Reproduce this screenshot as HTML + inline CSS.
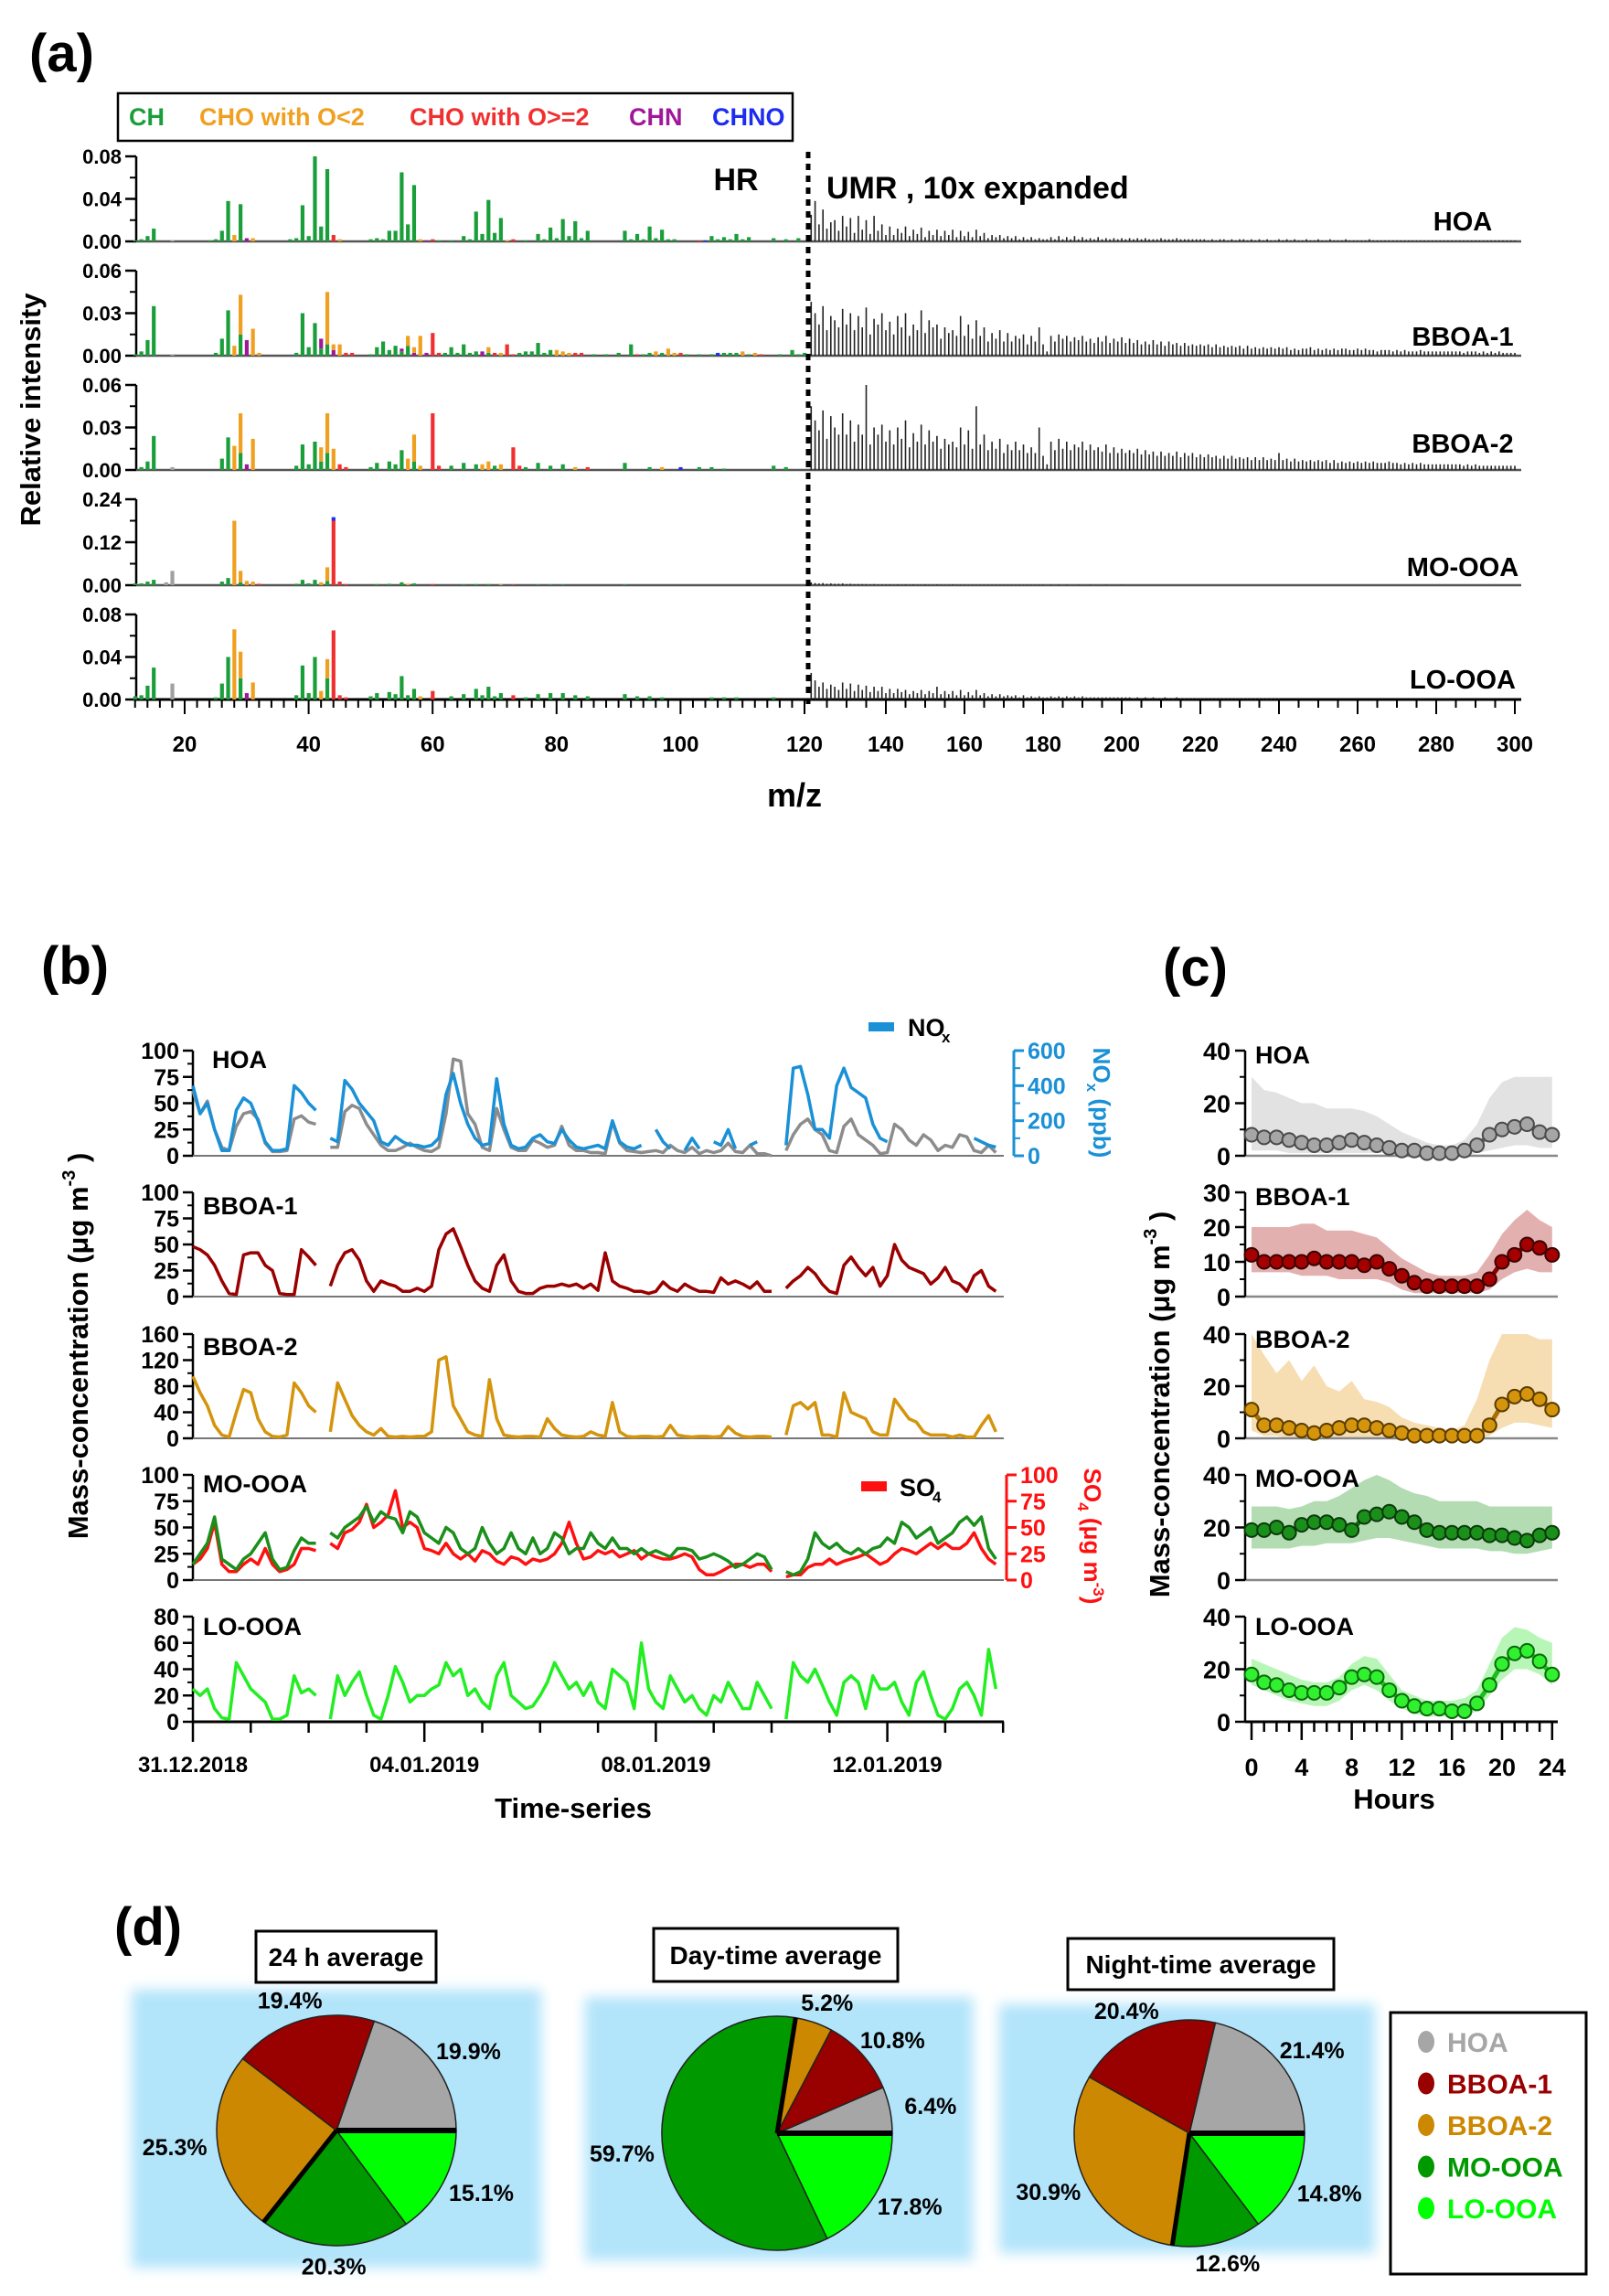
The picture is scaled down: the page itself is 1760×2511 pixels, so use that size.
<!DOCTYPE html>
<html><head><meta charset="utf-8"><title>PMF factor profiles, time series, diurnals and pies</title>
<style>
html,body{margin:0;padding:0;background:#fff;}
svg{display:block;}
</style></head>
<body>
<svg id="chart" xmlns="http://www.w3.org/2000/svg" width="1760" height="2511" viewBox="0 0 1760 2511">
<defs><filter id="blur" x="-10%" y="-10%" width="120%" height="120%"><feGaussianBlur stdDeviation="7"/></filter></defs>
</svg>
<script>
// ---------- DATA: panel (a) HR bars [m/z, value x0.001, category], stacked bottom->top per m/z ----------
const hrHOA=[[12,1,'c'],[13,2,'c'],[14,5,'c'],[15,12,'c'],[18,1,'g'],[24,1,'c'],[25,2,'c'],[26,10,'c'],[27,38,'c'],[28,6,'o'],[29,35,'c'],[30,3,'p'],[31,3,'o'],[37,2,'c'],[38,3,'c'],[39,34,'c'],[40,5,'c'],[41,82,'c'],[42,14,'c'],[43,68,'c'],[44,6,'r'],[45,2,'o'],[50,2,'c'],[51,3,'c'],[52,2,'c'],[53,10,'c'],[54,10,'c'],[55,65,'c'],[56,16,'c'],[57,53,'c'],[58,2,'o'],[59,1,'p'],[60,2,'r'],[61,1,'c'],[63,1,'c'],[65,5,'c'],[66,2,'c'],[67,28,'c'],[68,7,'c'],[69,39,'c'],[70,8,'c'],[71,22,'c'],[72,1,'o'],[73,2,'r'],[75,1,'c'],[77,7,'c'],[78,2,'c'],[79,13,'c'],[80,3,'c'],[81,21,'c'],[82,5,'c'],[83,19,'c'],[84,3,'c'],[85,10,'c'],[91,10,'c'],[92,2,'c'],[93,7,'c'],[94,2,'c'],[95,14,'c'],[96,3,'c'],[97,11,'c'],[98,2,'c'],[99,2,'c'],[103,1,'r'],[104,1,'b'],[105,5,'c'],[106,2,'c'],[107,4,'c'],[108,2,'c'],[109,7,'c'],[110,2,'c'],[111,4,'c'],[115,3,'c'],[117,2,'c'],[119,3,'c']];
const hrBBOA1=[[12,1,'c'],[13,3,'c'],[14,11,'c'],[15,35,'c'],[18,1,'g'],[25,2,'c'],[26,12,'c'],[27,32,'c'],[28,7,'o'],[29,15,'c'],[29,28,'o'],[30,11,'p'],[31,19,'o'],[32,2,'o'],[38,2,'c'],[39,30,'c'],[40,6,'c'],[41,23,'c'],[42,5,'c'],[42,7,'p'],[43,8,'c'],[43,37,'o'],[44,4,'p'],[44,4,'o'],[45,8,'o'],[46,2,'r'],[47,2,'r'],[50,1,'c'],[51,6,'c'],[52,10,'c'],[53,4,'c'],[54,7,'c'],[55,3,'c'],[55,2,'p'],[56,7,'c'],[56,7,'o'],[57,2,'p'],[57,4,'o'],[58,14,'o'],[59,2,'p'],[60,16,'r'],[61,2,'r'],[62,2,'c'],[63,6,'c'],[64,2,'c'],[65,8,'c'],[66,2,'c'],[67,3,'c'],[68,3,'p'],[69,2,'c'],[69,4,'o'],[70,2,'r'],[71,2,'o'],[72,8,'r'],[73,1,'r'],[74,2,'c'],[75,3,'c'],[76,3,'c'],[77,9,'c'],[78,2,'c'],[79,4,'c'],[80,4,'o'],[81,3,'o'],[82,2,'o'],[83,2,'r'],[84,2,'r'],[86,1,'c'],[88,1,'c'],[90,2,'c'],[92,8,'c'],[93,1,'r'],[94,1,'c'],[95,2,'c'],[96,3,'o'],[97,2,'c'],[98,5,'o'],[99,2,'o'],[100,2,'r'],[101,1,'c'],[103,1,'c'],[105,1,'c'],[106,2,'b'],[107,2,'c'],[108,2,'c'],[109,2,'c'],[110,3,'o'],[111,1,'c'],[112,2,'o'],[113,1,'r'],[116,1,'c'],[118,4,'c'],[119,1,'c'],[120,2,'c']];
const hrBBOA2=[[13,2,'c'],[14,6,'c'],[15,24,'c'],[18,2,'g'],[26,8,'c'],[27,23,'c'],[28,17,'o'],[29,12,'c'],[29,28,'o'],[30,4,'p'],[31,22,'o'],[38,3,'c'],[39,18,'c'],[40,4,'c'],[41,20,'c'],[42,6,'c'],[42,10,'o'],[43,12,'c'],[43,28,'o'],[44,15,'o'],[45,4,'r'],[46,2,'r'],[50,2,'c'],[51,5,'c'],[53,6,'c'],[54,4,'c'],[55,14,'c'],[56,8,'o'],[57,6,'c'],[57,19,'o'],[58,3,'o'],[60,40,'r'],[61,3,'r'],[63,3,'c'],[65,5,'c'],[67,4,'c'],[68,4,'o'],[69,6,'o'],[70,3,'c'],[71,4,'o'],[73,16,'r'],[74,3,'r'],[75,2,'c'],[77,5,'c'],[79,3,'c'],[81,4,'c'],[83,2,'o'],[85,2,'r'],[91,5,'c'],[95,2,'c'],[97,2,'o'],[100,2,'b'],[103,2,'c'],[105,2,'c'],[107,1,'c'],[115,3,'c'],[117,2,'c']];
const hrMOOOA=[[12,5,'c'],[13,5,'c'],[14,10,'c'],[15,15,'c'],[17,8,'g'],[18,40,'g'],[26,10,'c'],[27,20,'c'],[28,180,'o'],[29,8,'c'],[29,32,'o'],[30,12,'o'],[31,10,'o'],[32,4,'r'],[38,4,'c'],[39,15,'c'],[40,5,'c'],[41,15,'c'],[42,8,'o'],[43,12,'c'],[43,38,'o'],[44,180,'r'],[44,10,'b'],[45,10,'r'],[46,3,'r'],[51,3,'c'],[53,4,'c'],[55,8,'c'],[56,4,'o'],[57,5,'c'],[60,3,'r'],[65,2,'c'],[67,3,'c'],[69,3,'c'],[71,2,'o'],[73,2,'r'],[77,2,'c'],[79,2,'c'],[81,2,'c'],[91,2,'c']];
const hrLOOOA=[[12,3,'c'],[13,4,'c'],[14,13,'c'],[15,30,'c'],[18,15,'g'],[25,2,'c'],[26,15,'c'],[27,40,'c'],[28,66,'o'],[29,20,'c'],[29,25,'o'],[30,6,'p'],[31,16,'o'],[38,4,'c'],[39,32,'c'],[40,6,'c'],[41,40,'c'],[42,8,'o'],[43,20,'c'],[43,18,'o'],[44,65,'r'],[45,4,'r'],[46,2,'r'],[50,3,'c'],[51,6,'c'],[53,7,'c'],[54,5,'c'],[55,22,'c'],[56,4,'c'],[57,10,'c'],[58,3,'o'],[60,8,'r'],[63,3,'c'],[65,5,'c'],[67,10,'c'],[68,4,'c'],[69,12,'c'],[70,3,'c'],[71,6,'c'],[73,4,'r'],[75,2,'c'],[77,5,'c'],[79,6,'c'],[81,6,'c'],[83,4,'c'],[85,3,'c'],[91,5,'c'],[93,3,'c'],[95,3,'c'],[97,2,'c'],[105,2,'c'],[107,2,'c'],[109,2,'c'],[115,2,'c']];
// UMR (m/z 121..), displayed (10x expanded) intensity x0.001
const umrHOA=[25,38,16,30,12,18,20,10,24,14,22,8,24,11,20,7,24,10,16,6,14,6,12,8,14,5,11,7,13,4,10,6,11,5,10,6,11,4,10,5,9,4,11,5,8,3,6,4,6,3,5,3,5,2,4,2,4,2,3,2,2,4,2,5,2,4,2,5,2,4,2,3,2,4,2,3,2,3,2,3,2,3,2,3,2,3,2,2,2,3,2,2,2,3,2,2,2,2,2,2,2,1,2,1,2,2,1,2,1,2,2,1,2,1,2,1,2,1,1,2,1,2,1,2,1,1,2,1,1,2,1,1,2,1,1,1,2,1,1,1,1,1,2,1,1,1,1,1,1,1,1,1,1,1,1,1,1,1,1,1,1,1,1,1,1,1,1,1,1,1,1,1,1,1,1,1,1,1,1,1];
const umrBBOA1=[38,30,22,35,18,28,25,20,33,22,30,18,28,20,34,15,26,22,30,18,24,15,28,20,30,14,22,18,32,16,25,20,22,12,20,16,18,14,28,14,22,12,25,14,20,10,16,12,18,10,16,10,14,12,15,8,14,10,20,8,3,14,10,15,12,14,10,13,11,14,10,12,9,13,10,14,9,12,10,13,9,12,9,11,8,10,8,11,8,10,7,10,8,9,7,9,7,8,7,8,7,8,6,8,6,7,6,7,6,7,5,7,5,6,5,6,5,6,5,6,5,6,4,5,4,5,5,6,4,5,4,5,4,5,4,5,5,4,4,5,4,5,4,4,3,4,4,4,3,4,3,4,3,3,3,4,3,3,3,3,3,3,3,3,3,3,2,3,3,3,2,3,2,3,2,3,2,2,2,2];
const umrBBOA2=[45,35,28,42,22,38,30,25,40,25,35,20,32,25,60,18,30,25,32,20,28,18,30,22,35,16,26,20,32,18,28,20,24,15,22,18,20,16,30,18,28,15,45,18,25,14,20,15,22,12,18,14,20,14,18,12,16,12,30,10,4,20,14,22,15,20,14,18,16,20,14,18,14,16,13,18,12,16,12,15,12,14,12,15,11,14,11,13,10,13,10,12,10,13,9,12,10,12,9,11,9,11,9,10,8,10,8,10,8,9,8,9,7,9,7,9,7,8,7,12,7,8,6,8,6,7,6,7,6,7,6,7,5,7,5,6,5,6,5,6,5,6,5,6,5,5,5,6,5,5,4,5,4,5,4,5,4,4,4,4,4,4,4,4,4,4,3,4,3,4,3,3,3,3,3,3,3,3,3,3];
const umrMOOOA=[8,6,5,6,4,5,4,4,5,3,4,3,3,3,3,2,3,2,2,2,2,1,2,1,2,1,2,1,1,2,1,1,2,1,1,1,2,1,1,1,1,1,1,1,1,1,1,1,1,1,1,1,1,1,1,1,1,1,1,1,0,1,0,1,0,1,0,0,1,0,0,1,0,0,0,1,0,0,0,1];
const umrLOOOA=[25,18,12,16,10,14,12,9,16,10,15,8,14,9,13,7,12,8,12,6,10,6,10,7,9,5,8,6,9,5,8,6,12,5,8,5,8,4,9,4,7,4,9,4,6,3,5,3,5,3,4,3,4,2,4,2,3,2,3,2,2,3,2,3,2,3,2,3,2,3,2,2,2,2,2,2,2,2,2,2,2,2,1,2,1,2,1,2,1,1,2,1,1,2,1,1,1,1,1,1,1,1,1,1,1,1,1,1,1,1,1,1,1,1,1,1,1,1,1,1];
const aNames=['HOA','BBOA-1','BBOA-2','MO-OOA','LO-OOA'];
const aMax=[80,60,60,240,80];
const aTickLabels=[['0.00','0.04','0.08'],['0.00','0.03','0.06'],['0.00','0.03','0.06'],['0.00','0.12','0.24'],['0.00','0.04','0.08']];
const mzTicksHR=[20,40,60,80,100];
const mzTicksUMR=[120,140,160,180,200,220,240,260,280,300];

// ---------- DATA: panel (b) time series, 3-hourly, 31.12.2018 00:00 onward ----------
const tsHOA=[62,40,52,25,8,5,28,40, 42,35,12,4,4,5,35,38, 32,30,null,8,8,42,48,45, 30,20,10,5,5,8,12,8, 5,4,8,40,92,90,40,30, 8,5,45,25,8,5,5,15, 12,8,10,28,10,5,5,3, 3,2,32,12,5,4,3,4, 5,3,10,5,3,8,2,5, 3,5,12,4,3,10,2,2, 0,null,5,20,30,35,25,20, 5,3,28,35,20,15,10,2, 3,30,25,15,10,20,15,5, 10,8,20,18,5,3,10,3];
const tsNOx=[400,240,300,150,30,30,260,330, 300,200,80,30,30,40,400,360, 300,260,null,100,80,430,380,300, 250,200,80,60,110,80,60,60, 50,60,100,350,470,300,180,100, 60,70,440,180,60,40,50,100, 120,80,70,150,90,50,40,50, 60,40,200,80,50,40,60,null, 150,80,40,null,30,100,40,null, 80,60,150,40,null,60,80,null, 30,null,60,500,510,350,150,150, 100,400,500,390,360,330,180,100, 80,null,null,null,null,null,null,null, null,null,null,null,100,80,60,50];
const tsBBOA1=[48,45,40,30,15,3,2,40, 42,42,30,25,3,2,2,45, 38,30,null,10,30,42,45,35, 15,5,15,12,10,5,5,8, 5,10,45,60,65,48,30,15, 8,5,30,40,15,5,3,3, 8,10,10,12,10,12,8,12, 6,42,15,10,8,5,5,3, 5,14,8,5,12,8,5,5, 4,18,12,15,12,8,14,5, 5,null,8,15,20,28,22,12, 5,3,30,38,28,20,28,10, 20,50,35,28,25,22,12,18, 28,15,12,5,20,25,10,5];
const tsBBOA2=[95,70,50,20,5,2,40,75, 70,30,10,3,2,5,85,70, 50,40,null,10,85,60,35,20, 10,5,15,3,2,3,2,3, 3,10,120,125,50,30,10,5, 3,90,30,5,3,2,3,3, 2,30,15,5,3,2,3,10, 5,3,55,10,3,2,3,3, 2,3,20,5,3,2,3,3, 2,3,18,8,3,2,3,3, 2,null,5,50,55,45,55,5, 5,2,70,40,35,30,10,5, 5,60,45,30,25,10,5,5, 5,2,5,2,2,20,35,10];
const tsMOOOA=[15,25,35,60,20,15,10,20, 25,35,45,20,10,12,28,40, 35,35,null,45,40,50,55,60, 70,55,65,60,58,45,65,60, 45,40,35,50,45,30,25,30, 50,35,25,30,45,30,25,40, 25,30,45,40,25,30,30,45, 35,30,40,30,30,25,30,25, 28,25,22,30,30,28,20,22, 25,22,18,12,15,20,25,22, 10,null,8,5,8,20,45,35, 30,35,28,25,30,25,30,32, 40,35,55,50,40,45,50,35, 40,45,55,60,52,60,30,20];
const tsSO4=[15,20,30,55,15,8,8,15, 20,15,30,15,8,10,15,30, 30,28,null,35,30,45,48,55, 72,50,55,62,85,50,55,50, 30,28,25,35,25,20,25,18, 28,25,18,15,22,20,15,20, 18,20,25,35,55,35,20,22, 28,25,28,22,25,28,20,25, 22,20,20,22,25,22,10,5, 5,8,12,15,15,12,15,15, 8,null,3,5,5,12,15,15, 20,15,18,20,22,25,20,15, 18,25,30,28,25,30,35,30, 35,30,30,35,45,30,20,15];
const tsLOOOA=[25,20,25,10,3,2,45,35, 25,20,15,2,2,5,35,22, 25,20,null,2,35,20,30,38, 20,5,2,20,42,30,15,20, 20,25,28,45,35,40,20,25, 15,10,35,45,20,15,10,12, 20,30,45,35,25,30,20,30, 15,10,40,35,30,10,60,25, 15,10,35,25,15,20,10,5, 20,15,30,20,10,10,30,20, 10,null,2,45,35,30,40,28, 15,5,30,35,30,10,35,25, 25,30,15,5,30,38,20,5, 2,10,25,30,20,5,55,25];
const dateLabels=['31.12.2018','04.01.2019','08.01.2019','12.01.2019'];
const dateDays=[0,4,8,12];

// ---------- DATA: panel (c) diurnal cycles (hours 0..24) ----------
const hours=[0,1,2,3,4,5,6,7,8,9,10,11,12,13,14,15,16,17,18,19,20,21,22,23,24];
const dHOA=[8,7,7,6,5,4,4,5,6,5,4,3,2,2,1,1,1,2,4,8,10,11,12,9,8];
const dHOAup=[30,25,24,22,20,20,18,18,18,17,15,12,9,7,5,4,4,6,12,22,28,30,30,30,30];
const dHOAlo=[2,2,2,1,1,1,1,1,1,1,1,1,0,0,0,0,0,0,1,2,3,4,4,3,3];
const dBB1=[12,10,10,10,10,11,10,10,10,9,10,8,6,4,3,3,3,3,3,5,10,12,15,14,12];
const dBB1up=[20,20,20,20,21,21,19,19,19,18,17,14,11,9,7,6,6,6,7,12,18,22,25,22,20];
const dBB1lo=[7,7,7,7,6,6,6,5,5,5,5,4,2,1,1,1,1,1,1,2,5,7,8,7,7];
const dBB2=[11,5,5,4,3,2,3,4,5,5,4,3,2,1,1,1,1,1,1,5,13,16,17,15,11];
const dBB2up=[40,32,25,30,22,28,20,18,22,15,14,12,8,6,5,4,3,5,15,30,40,40,40,38,38];
const dBB2lo=[3,1,1,0,0,0,0,0,0,0,0,0,0,0,0,0,0,0,0,1,4,6,6,5,4];
const dMO=[19,19,20,18,21,22,22,21,19,24,25,26,24,22,19,18,18,18,18,17,17,16,15,17,18];
const dMOup=[28,28,28,27,28,30,30,32,35,38,40,38,35,33,32,30,30,30,30,28,28,28,28,28,28];
const dMOlo=[12,12,12,12,13,13,14,14,14,15,16,16,15,14,13,12,12,12,12,11,11,10,10,11,12];
const dLO=[18,15,14,12,11,11,11,13,17,18,17,12,8,6,5,5,4,4,7,14,22,26,27,23,18];
const dLOup=[24,22,20,18,16,15,15,17,22,25,24,18,12,10,8,8,8,9,12,22,32,36,35,32,30];
const dLOlo=[14,12,10,8,7,6,6,8,12,14,12,8,5,3,2,2,2,2,4,10,16,20,20,18,14];

// ---------- DATA: panel (d) pies ----------
const pieFactors=['HOA','BBOA-1','BBOA-2','MO-OOA','LO-OOA'];
const pie24h=[19.9,19.4,25.3,20.3,15.1];
const pieDay=[6.4,10.8,5.2,59.7,17.8];
const pieNight=[21.4,20.4,30.9,12.6,14.8];
const pieTitles=['24 h average','Day-time average','Night-time average'];

// ---------- helpers ----------
const NS='http://www.w3.org/2000/svg';
const svg=document.getElementById('chart');
const FN='"Liberation Sans Narrow","Liberation Sans",sans-serif';
const FW='"Liberation Sans",sans-serif';
function mk(tag,attrs){const e=document.createElementNS(NS,tag);for(const k in attrs)e.setAttribute(k,attrs[k]);svg.appendChild(e);return e;}
function tx(x,y,s,size,fill,anchor,name,fam,rot){
  const a={x:x,y:y,'font-size':size,fill:fill||'#000','text-anchor':anchor||'start','font-weight':'bold','font-family':fam||FN};
  if(rot!==undefined)a.transform='rotate('+rot+' '+x+' '+y+')';
  const e=mk('text',a);e.textContent=s;
  
  
  return e;}
function ln(x1,y1,x2,y2,st,w,name,extra){
  const a={x1:x1,y1:y1,x2:x2,y2:y2,stroke:st,'stroke-width':w};
  if(extra)for(const k in extra)a[k]=extra[k];
  const e=mk('line',a);
  
  
  return e;}

// ---------- PANEL (a) ----------
tx(32,78,'(a)',58,'#000','start','panel-a-label',FW);
(function(){const r=mk('rect',{x:129,y:102,width:738,height:52,fill:'#fff',stroke:'#000','stroke-width':2.5});

})();
const legA=[['CH','#1a9e3a',141],['CHO with O<2','#f0a020',218],['CHO with O>=2','#f03030',448],['CHN','#a0189a',688],['CHNO','#1c2cf0',779]];
legA.forEach(l=>{tx(l[2],137,l[0],27,l[1],'start','legend-entry-'+l[0].toLowerCase().replace(/[^a-z0-9]+/g,'-'));});
const catCol={c:'#1a9e3a',o:'#f0a020',r:'#f03030',p:'#a0189a',b:'#1c2cf0',g:'#a0a0a0'};
const aTops=[171,296,421,546,672],aBases=[264,389,514,640,765];
const hrSets=[hrHOA,hrBBOA1,hrBBOA2,hrMOOOA,hrLOOOA];
const umrSets=[umrHOA,umrBBOA1,umrBBOA2,umrMOOOA,umrLOOOA];
const aLabelY=[252,378,495,630,753];
function xHR(m){return 202+(m-20)*6.78;}
function xU(m){return 883+(m-120)*4.3;}
const AX=149,AR=1664;
for(let p=0;p<5;p++){
  const top=aTops[p],base=aBases[p],h=base-top,mx=aMax[p];
  const yv=v=>base-Math.min(v/mx,1)*h;
  ln(AX,top,AX,base,'#000',2.5,'y-axis-'+aNames[p].toLowerCase());
  const tl=aTickLabels[p];
  for(let k=0;k<tl.length;k++){const y=top+(base-top)*(1-k/(tl.length-1));
    ln(AX-12,y,AX,y,'#000',2.5,'y-tick');
    tx(AX-16,y+8,tl[k],22,'#000','end','y-tick-label');
    if(k<tl.length-1)ln(AX-7,y-h/4,AX,y-h/4,'#000',2,'y-minor-tick');}
  ln(AX,base,AR,base,p===4?'#000':'#555',p===4?3:2.5,'baseline-'+aNames[p].toLowerCase());
  const stack={};
  hrSets[p].forEach(d=>{const m=d[0],v=d[1];const s0=stack[m]||0;stack[m]=s0+v;
    const y1=yv(s0),y2=yv(s0+v);
    const r=mk('rect',{x:xHR(m)-2,y:y2,width:4.2,height:Math.max(y1-y2,0.8),fill:catCol[d[2]]});
    
    });
  umrSets[p].forEach((v,i)=>{if(v<=0)return;const m=121+i;
    ln(xU(m),base,xU(m),yv(v),'#222',1.6,'umr-bar');});
  tx(1600,aLabelY[p],aNames[p],29,'#000','middle','profile-label-'+aNames[p].toLowerCase());
}
ln(884,166,884,770,'#000',5,'hr-umr-divider',{'stroke-dasharray':'7,6'});
tx(805,208,'HR',34,'#000','middle','hr-label');
tx(904,217,'UMR , 10x expanded',34,'#000','start','umr-label');
for(let m=12;m<=120;m+=2){const maj=(m%20===0);ln(xHR(m),765,xHR(m),765+(maj?16:9),'#000',2,'x-tick');}
for(let m=125;m<=300;m+=5){const maj=(m%20===0);ln(xU(m),765,xU(m),765+(maj?16:9),'#000',2,'x-tick');}
mzTicksHR.forEach(m=>tx(xHR(m),822,String(m),24,'#000','middle','x-tick-label'));
mzTicksUMR.forEach(m=>tx(m===120?xHR(120):xU(m),822,String(m),24,'#000','middle','x-tick-label'));
tx(869,882,'m/z',36,'#000','middle','x-axis-title',FW);
tx(44,448,'Relative intensity',31,'#000','middle','y-axis-title-a',FW,-90);

// ---------- PANEL (b) ----------
tx(45,1076,'(b)',58,'#000','start','panel-b-label',FW);
const BX=211,BR=1098,DAYPX=63.3;
function xT(i){return BX+(i/8)*DAYPX;}
const bTops=[1149,1304,1459,1613,1768],bBases=[1264,1418,1573,1728,1883];
const bMax=[100,100,160,100,80];
const bTicks=[[0,25,50,75,100],[0,25,50,75,100],[0,40,80,120,160],[0,25,50,75,100],[0,20,40,60,80]];
const bLabY=[1168,1328,1482,1632,1788];
function tsPath(arr,top,base,mx,col,w,name){
  let d='',pen=false;
  arr.forEach((v,i)=>{if(v===null){pen=false;return;}
    const y=base-v/mx*(base-top);d+=(pen?'L':'M')+xT(i).toFixed(1)+' '+y.toFixed(1)+' ';pen=true;});
  const e=mk('path',{d:d,fill:'none',stroke:col,'stroke-width':w,'stroke-linejoin':'round'});
  
  }
for(let p=0;p<5;p++){
  const top=bTops[p],base=bBases[p],mx=bMax[p];
  ln(BX,top,BX,base,'#000',2.5,'y-axis-b');
  bTicks[p].forEach(t=>{const y=base-t/mx*(base-top);ln(BX-11,y,BX,y,'#000',2.5,'y-tick');
    tx(BX-15,y+9,String(t),25,'#000','end','y-tick-label');});
  for(let k=0;k<4;k++){const y=base-(k+0.5)/4*(base-top);ln(BX-6,y,BX,y,'#000',2,'y-minor-tick');}
  ln(BX,base,BR,base,p===4?'#000':'#777',p===4?3:2,'baseline-b');
  tx(p===0?232:222,bLabY[p],aNames[p],27,'#000','start','ts-label-'+aNames[p].toLowerCase());
}
tsPath(tsHOA,bTops[0],bBases[0],100,'#8c8c8c',3.5,'hoa-line');
tsPath(tsNOx,bTops[0],bBases[0],600,'#1a90d6',3.5,'nox-line');
tsPath(tsBBOA1,bTops[1],bBases[1],100,'#9a0000',3.5,'bboa1-line');
tsPath(tsBBOA2,bTops[2],bBases[2],160,'#d4940c',3.5,'bboa2-line');
tsPath(tsSO4,bTops[3],bBases[3],100,'#ff1010',3.5,'so4-line');
tsPath(tsMOOOA,bTops[3],bBases[3],100,'#1a8f1a',3.5,'moooa-line');
tsPath(tsLOOOA,bTops[4],bBases[4],80,'#22ee22',3.5,'loooa-line');
// NOx right axis
ln(1109,1149,1109,1264,'#1a90d6',3,'nox-axis');
[0,200,400,600].forEach(t=>{const y=1264-t/600*115;ln(1109,y,1120,y,'#1a90d6',3,'nox-tick');tx(1124,y+9,String(t),25,'#1a90d6','start','nox-tick-label');});
[100,300,500].forEach(t=>{const y=1264-t/600*115;ln(1109,y,1116,y,'#1a90d6',2,'nox-minor-tick');});
(function(){const t=tx(1196,1206,'NO',26,'#1a90d6','middle','nox-axis-title',FN,90);t.textContent='';
const s1=document.createElementNS(NS,'tspan');s1.textContent='NO';t.appendChild(s1);
const s2=document.createElementNS(NS,'tspan');s2.setAttribute('font-size','17');s2.setAttribute('dy','7');s2.textContent='x';t.appendChild(s2);
const s3=document.createElementNS(NS,'tspan');s3.setAttribute('dy','-7');s3.textContent=' (ppb)';t.appendChild(s3);})();
(function(){const r=mk('rect',{x:950,y:1118,width:28,height:10,fill:'#1a90d6'});})();
tx(993,1133,'NO',27,'#000','start','nox-legend-label');tx(1030,1140,'x',17,'#000','start','nox-legend-sub');
// SO4 right axis
ln(1101,1613,1101,1728,'#ff1010',3,'so4-axis');
[0,25,50,75,100].forEach(t=>{const y=1728-t/100*115;ln(1101,y,1112,y,'#ff1010',3,'so4-tick');tx(1116,y+9,String(t),25,'#ff1010','start','so4-tick-label');});
(function(){const t=tx(1186,1680,'',26,'#ff1010','middle','so4-axis-title',FN,90);
const a=document.createElementNS(NS,'tspan');a.textContent='SO';t.appendChild(a);
const b=document.createElementNS(NS,'tspan');b.setAttribute('font-size','17');b.setAttribute('dy','7');b.textContent='4';t.appendChild(b);
const c=document.createElementNS(NS,'tspan');c.setAttribute('dy','-7');c.textContent=' (μg m';t.appendChild(c);
const d=document.createElementNS(NS,'tspan');d.setAttribute('font-size','17');d.setAttribute('dy','-10');d.textContent='-3';t.appendChild(d);
const e=document.createElementNS(NS,'tspan');e.setAttribute('dy','10');e.textContent=')';t.appendChild(e);})();
(function(){const r=mk('rect',{x:942,y:1620,width:28,height:11,fill:'#ff1010'});})();
tx(984,1636,'SO',27,'#000','start','so4-legend-label');tx(1020,1643,'4',17,'#000','start','so4-legend-sub');
// time axis
for(let d=0;d<=14;d++){const x=BX+d*DAYPX;const maj=(d%4===0);ln(x,1883,x,1883+(maj?22:12),'#000',2.5,'time-tick');}
dateLabels.forEach((s,i)=>tx(BX+dateDays[i]*DAYPX,1938,s,24,'#000','middle','date-label'));
tx(627,1988,'Time-series',31,'#000','middle','x-axis-title-b',FW);
(function(){const t=tx(96,1472,'',31,'#000','middle','y-axis-title-b',FW,-90);
const a=document.createElementNS(NS,'tspan');a.textContent='Mass-concentration (μg m';t.appendChild(a);
const b=document.createElementNS(NS,'tspan');b.setAttribute('font-size','20');b.setAttribute('dy','-14');b.textContent='-3';t.appendChild(b);
const c=document.createElementNS(NS,'tspan');c.setAttribute('dy','14');c.textContent=' )';t.appendChild(c);})();

// ---------- PANEL (c) ----------
tx(1272,1078,'(c)',58,'#000','start','panel-c-label',FW);
const CX=1362,C0=1369,CH=13.7;
function xH(h){return C0+h*CH;}
const cMax=[40,30,40,40,40];
const cTicks=[[0,20,40],[0,10,20,30],[0,20,40],[0,20,40],[0,20,40]];
const cMean=[dHOA,dBB1,dBB2,dMO,dLO],cUp=[dHOAup,dBB1up,dBB2up,dMOup,dLOup],cLo=[dHOAlo,dBB1lo,dBB2lo,dMOlo,dLOlo];
const cBand=['#e2e2e2','#e3b0b0','#f6ddb2','#b3dcb3','#b8f6b8'];
const cLine=['#666','#8b0000','#a86e00','#0f6b0f','#18c018'];
const cFill=['#a6a6a6','#a50000','#d4940c','#1a8f1a','#30f030'];
const cStroke=['#4a4a4a','#3a0000','#5a3c00','#0a3a0a','#0a6a0a'];
const cLabY=[1163,1318,1474,1626,1788];
for(let p=0;p<5;p++){
  const top=bTops[p],base=bBases[p],mx=cMax[p];
  const yv=v=>base-v/mx*(base-top);
  let d='';hours.forEach((h,i)=>{d+=(i?'L':'M')+xH(h).toFixed(1)+' '+yv(cUp[p][i]).toFixed(1)+' ';});
  for(let i=hours.length-1;i>=0;i--)d+='L'+xH(hours[i]).toFixed(1)+' '+yv(cLo[p][i]).toFixed(1)+' ';
  const band=mk('path',{d:d+'Z',fill:cBand[p]});
  
  
  ln(CX,base,1704,base,p===4?'#000':'#888',p===4?3:2.5,'baseline-c');
  ln(CX,top,CX,base,'#000',2.5,'y-axis-c');
  cTicks[p].forEach(t=>{const y=yv(t);ln(CX-11,y,CX,y,'#000',2.5,'y-tick');tx(CX-16,y+10,String(t),27,'#000','end','y-tick-label');});
  const st=cTicks[p][1]/2;for(let t=st;t<mx;t+=cTicks[p][1]){const y=yv(t);ln(CX-6,y,CX,y,'#000',2,'y-minor-tick');}
  let dl='';hours.forEach((h,i)=>{dl+=(i?'L':'M')+xH(h).toFixed(1)+' '+yv(cMean[p][i]).toFixed(1)+' ';});
  const pl=mk('path',{d:dl,fill:'none',stroke:cLine[p],'stroke-width':5});
  
  
  hours.forEach((h,i)=>{const c=mk('circle',{cx:xH(h),cy:yv(cMean[p][i]),r:7.5,fill:cFill[p],stroke:cStroke[p],'stroke-width':2});
    
    });
  tx(1373,cLabY[p],aNames[p],27,'#000','start','diurnal-label-'+aNames[p].toLowerCase());
}
for(let h=0;h<=24;h++){const maj=(h%4===0);ln(xH(h),1883,xH(h),1883+(maj?20:11),'#000',2.5,'hour-tick');}
[0,4,8,12,16,20,24].forEach(h=>tx(xH(h),1942,String(h),27,'#000','middle','hour-label'));
tx(1525,1978,'Hours',31,'#000','middle','x-axis-title-c',FW);
(function(){const t=tx(1279,1536,'',31,'#000','middle','y-axis-title-c',FW,-90);
const a=document.createElementNS(NS,'tspan');a.textContent='Mass-concentration (μg m';t.appendChild(a);
const b=document.createElementNS(NS,'tspan');b.setAttribute('font-size','20');b.setAttribute('dy','-14');b.textContent='-3';t.appendChild(b);
const c=document.createElementNS(NS,'tspan');c.setAttribute('dy','14');c.textContent=' )';t.appendChild(c);})();

// ---------- PANEL (d) ----------
tx(125,2127,'(d)',58,'#000','start','panel-d-label',FW);
const pieCol=['#a6a6a6','#990000','#cc8800','#009900','#00ff00'];
const pieSets=[pie24h,pieDay,pieNight];
const pieCx=[368,850,1301],pieCy=[2330,2333,2333],pieRx=[131,126,126],pieRy=[126,128,124];
const bgBox=[[144,2176,448,304],[640,2184,424,288],[1093,2192,411,272]];
const titleBox=[[280,2112,197,56],[715,2109,267,58],[1168,2120,291,56]];
for(let k=0;k<3;k++){
  const b=bgBox[k];
  const bg=mk('rect',{x:b[0],y:b[1],width:b[2],height:b[3],fill:'#b2e4fa',filter:'url(#blur)'});
  
  
  const t=titleBox[k];
  const tr=mk('rect',{x:t[0],y:t[1],width:t[2],height:t[3],fill:'#fff',stroke:'#000','stroke-width':3});
  
  
  tx(t[0]+t[2]/2,t[1]+t[3]/2+10,pieTitles[k],28,'#000','middle','pie-title');
  const vals=pieSets[k],tot=vals.reduce((a,b)=>a+b,0);
  const cx=pieCx[k],cy=pieCy[k],rx=pieRx[k],ry=pieRy[k];
  const pt=(a,f1,f2)=>[cx+rx*(f1||1)*Math.cos(a),cy-ry*(f2||1)*Math.sin(a)];
  let a0=0;const bounds=[0];
  vals.forEach((v,i)=>{const a1=a0+v/tot*2*Math.PI;
    const p0=pt(a0),p1=pt(a1);const large=(a1-a0)>Math.PI?1:0;
    const s=mk('path',{d:'M'+cx+' '+cy+' L'+p0[0].toFixed(1)+' '+p0[1].toFixed(1)+' A'+rx+' '+ry+' 0 '+large+' 0 '+p1[0].toFixed(1)+' '+p1[1].toFixed(1)+' Z',fill:pieCol[i],stroke:'#222','stroke-width':1.5});
    
    
    const am=(a0+a1)/2;const lp=pt(am,1.36,1.18);
    tx(lp[0],lp[1]+9,v.toFixed(1)+'%',25,'#000','middle','pie-percent-label');
    a0=a1;bounds.push(a1);});
  const e0=pt(0);ln(cx,cy,e0[0],e0[1],'#000',6,'pie-separator');
  const e3=pt(bounds[3]);ln(cx,cy,e3[0],e3[1],'#000',5,'pie-separator');
}
(function(){const r=mk('rect',{x:1521,y:2201,width:214,height:286,fill:'#fff',stroke:'#000','stroke-width':3});

})();
pieFactors.forEach((f,i)=>{const y=2233+i*45.5;
  const c=mk('ellipse',{cx:1560,cy:y,rx:9,ry:12,fill:pieCol[i]});
  
  
  tx(1583,y+11,f,30,pieCol[i],'start','pie-legend-entry');});
</script>
</body></html>
